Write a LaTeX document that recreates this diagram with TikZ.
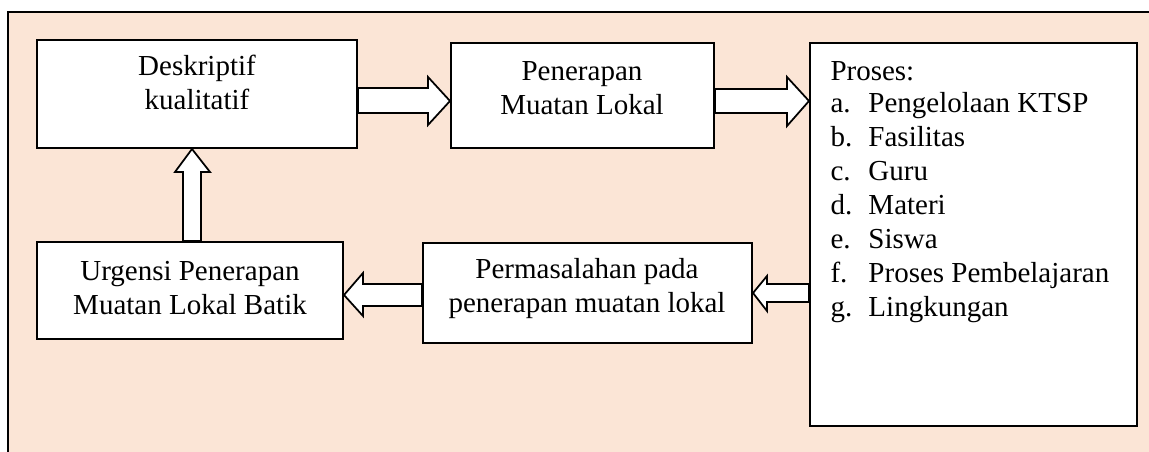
\documentclass[tikz,border=0pt]{standalone}
\usepackage{fontspec}
\setmainfont{Liberation Serif}
\usetikzlibrary{fit,calc}
\definecolor{peach}{HTML}{FBE5D6}
\tikzset{
  box/.style={draw=black, fill=white, line width=0.8pt, inner sep=0pt},
  lbl/.style={font=\fontsize{11.6}{13.6}\selectfont, inner sep=0pt, align=center, anchor=base},
  fat/.style={draw=black, fill=white, line width=0.7pt, line join=miter},
}
\begin{document}
\begin{tikzpicture}[x=0.4pt, y=-0.4pt]
\useasboundingbox (0,0) rectangle (1149,452);
% frame
\fill[peach] (8,12.5) rectangle (1149,452);
\draw[line width=0.8pt] (1149,12.5) -- (8,12.5) -- (8,452);
% boxes
\coordinate (d1) at (37,40);   \coordinate (d2) at (357,148);
\coordinate (p1) at (451,43);  \coordinate (p2) at (714,148);
\coordinate (r1) at (810,43);  \coordinate (r2) at (1137,426);
\coordinate (u1) at (37,242);  \coordinate (u2) at (343,339);
\coordinate (m1) at (423,243); \coordinate (m2) at (752,343);
\node[box, fit=(d1)(d2)] (d) {};
\node[box, fit=(p1)(p2)] (p) {};
\node[box, fit=(r1)(r2)] (r) {};
\node[box, fit=(u1)(u2)] (u) {};
\node[box, fit=(m1)(m2)] (m) {};
% texts (base anchor = baseline of last line)
\node[lbl] (dt) at (197,110) {Deskriptif\\kualitatif};
\node[lbl] (pt) at (582,115) {Penerapan\\Muatan Lokal};
\node[lbl] (ut) at (190,315) {Urgensi Penerapan\\Muatan Lokal Batik};
\node[lbl] (mt) at (587,313) {Permasalahan pada\\penerapan muatan lokal};
\node[lbl, align=left, anchor=base west] (rt) at (830,317) {Proses:\\[-0.8pt]
\makebox[15.2pt][l]{a.}Pengelolaan KTSP\\
\makebox[15.2pt][l]{b.}Fasilitas\\
\makebox[15.2pt][l]{c.}Guru\\
\makebox[15.2pt][l]{d.}Materi\\
\makebox[15.2pt][l]{e.}Siswa\\
\makebox[15.2pt][l]{f.}Proses Pembelajaran\\
\makebox[15.2pt][l]{g.}Lingkungan};
% block arrows
\draw[fat] (d.east |- 0,88) -- (428,88) -- (428,77) -- (p.west |- 0,101)
  -- (428,125) -- (428,113) -- (d.east |- 0,113) -- cycle;
\draw[fat] (p.east |- 0,89) -- (787,89) -- (787,77) -- (r.west |- 0,101)
  -- (787,126) -- (787,113) -- (p.east |- 0,113) -- cycle;
\draw[fat] (183,0 |- u.north) -- (183,172) -- (175,172) -- (192,0 |- d.south)
  -- (210,172) -- (201,172) -- (201,0 |- u.north) -- cycle;
\draw[fat] (m.west |- 0,284) -- (363,284) -- (363,273) -- (u.east |- 0,295)
  -- (363,316) -- (363,306) -- (m.west |- 0,306) -- cycle;
\draw[fat] (r.west |- 0,284) -- (767,284) -- (767,276) -- (m.east |- 0,293)
  -- (767,311) -- (767,302) -- (r.west |- 0,302) -- cycle;
\end{tikzpicture}
\end{document}
